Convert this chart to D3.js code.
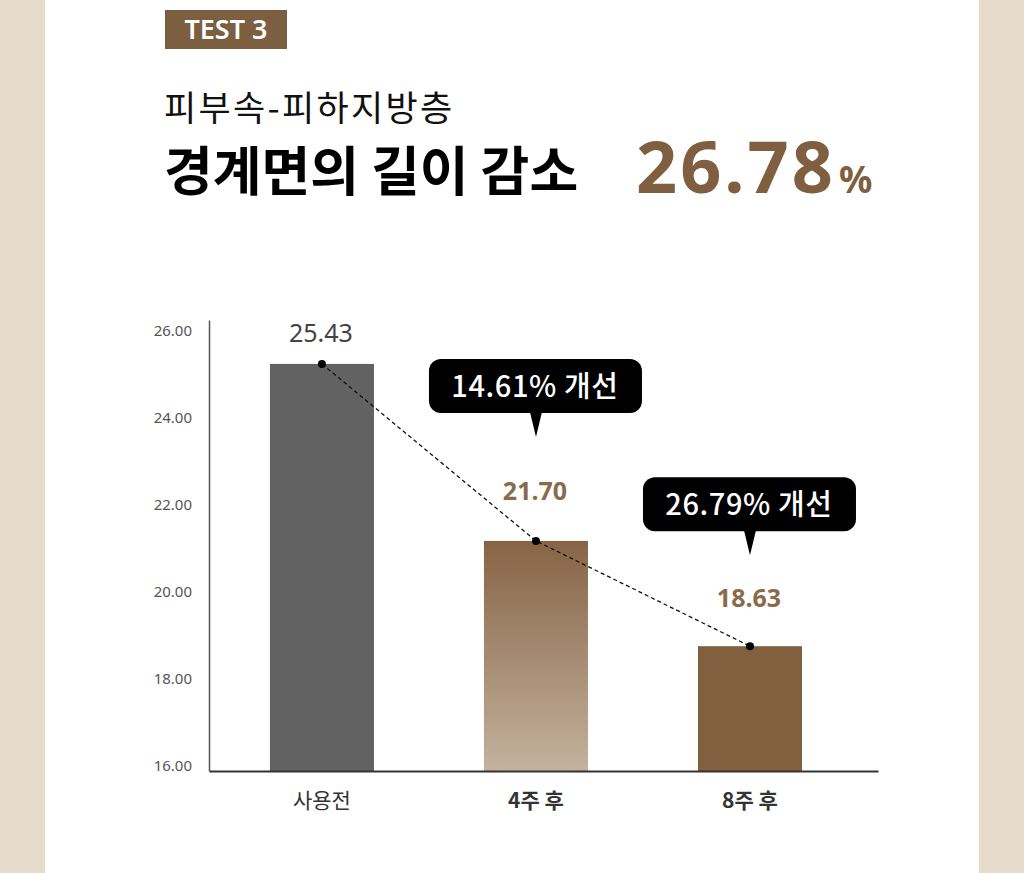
<!DOCTYPE html>
<meta charset="utf-8">
<style>
  body { margin: 0; background: #e7dccc; }
  svg { display: block; }
</style>

<!-- Load d3.js -->
<script src="https://d3js.org/d3.v7.min.js"></script>

<div id="my_dataviz"></div>

<script>
// chart values
var categories = ["사용전", "4주 후", "8주 후"];
var barValues = [25.36, 21.29, 18.87];          // bar heights on the axis
var valueLabels = ["25.43", "21.70", "18.63"];  // printed values
var yTicks = [16, 18, 20, 22, 24, 26];
var calloutLabels = ["14.61% 개선", "26.79% 개선"];
var badgeText = "TEST 3";
var subTitle = "피부속-피하지방층";
var mainTitle = "경계면의 길이 감소";
var bigNumber = "26.78";

var W = 1024, H = 873;
var brown = "#7f5f3f";
var kr = "'Noto Sans CJK KR', 'Noto Sans', sans-serif";

var svg = d3.select("#my_dataviz")
  .append("svg")
    .attr("width", W)
    .attr("height", H);

// white panel in the middle
svg.append("rect")
  .attr("x", 45).attr("y", 0)
  .attr("width", 934).attr("height", H)
  .attr("fill", "#ffffff");

// badge
svg.append("rect")
  .attr("x", 165).attr("y", 10)
  .attr("width", 122).attr("height", 39)
  .attr("fill", "#7c5e40");
svg.append("text")
  .attr("x", 226).attr("y", 39)
  .attr("text-anchor", "middle")
  .style("font-family", "'Noto Sans', sans-serif")
  .style("font-weight", 600)
  .style("font-size", "27px")
  .style("fill", "#fff")
  .text(badgeText);

// headings
svg.append("text")
  .attr("x", 164).attr("y", 121)
  .style("font-family", kr)
  .style("font-size", "35px")
  .style("letter-spacing", "2.3px")
  .style("fill", "#111")
  .text(subTitle);
svg.append("text")
  .attr("x", 164).attr("y", 191)
  .style("font-family", kr)
  .style("font-weight", 700)
  .style("font-size", "53px")
  .style("fill", "#000")
  .text(mainTitle);

var big = svg.append("text")
  .attr("x", 636).attr("y", 193)
  .style("font-family", "'Noto Sans', sans-serif")
  .style("font-weight", 700)
  .style("font-size", "72px")
  .style("letter-spacing", "3px")
  .style("fill", brown);
big.append("tspan").text(bigNumber);
big.append("tspan")
  .attr("dx", 3)
  .style("font-size", "37px")
  .style("letter-spacing", "0px")
  .text("%");

// scales
var y = d3.scaleLinear()
  .domain([16, 26.37])
  .range([771, 320]);

var x = d3.scaleBand()
  .domain(categories)
  .range([209, 878])
  .paddingInner(0.514)
  .paddingOuter(0.32)
  .align(0.445);

// Y axis
var yAxis = svg.append("g")
  .attr("transform", "translate(209,0)")
  .call(d3.axisLeft(y).tickValues(yTicks).tickFormat(d3.format(".2f")).tickSize(0).tickPadding(17));
yAxis.select(".domain").attr("stroke", "#555").attr("stroke-width", 1.5);
yAxis.selectAll("text")
  .attr("dy", "-0.02em")
  .style("font-family", "'Noto Sans', sans-serif")
  .style("font-size", "15px")
  .style("fill", "#555");

// gradient for the middle bar
var defs = svg.append("defs");
var grad = defs.append("linearGradient")
  .attr("id", "midGrad")
  .attr("x1", 0).attr("y1", 0).attr("x2", 0).attr("y2", 1);
grad.append("stop").attr("offset", "0%").attr("stop-color", "#876445");
grad.append("stop").attr("offset", "100%").attr("stop-color", "#c4b19e");

var barFill = ["#626262", "url(#midGrad)", "#82603f"];

// bars
svg.selectAll("bars")
  .data(barValues)
  .enter()
  .append("rect")
    .attr("x", function(d, i) { return x(categories[i]); })
    .attr("y", function(d) { return y(d); })
    .attr("width", x.bandwidth())
    .attr("height", function(d) { return y(16) - y(d); })
    .attr("fill", function(d, i) { return barFill[i]; });

// X axis
var xAxis = svg.append("g")
  .attr("transform", "translate(0," + y(16) + ")")
  .call(d3.axisBottom(x).tickSize(0).tickPadding(22));
xAxis.select(".domain").attr("stroke", "#333").attr("stroke-width", 2);
xAxis.selectAll("text")
  .style("font-family", kr)
  .style("font-size", "21px")
  .style("font-weight", function(d, i) { return i == 0 ? 400 : 700; })
  .style("fill", "#333");

// dashed trend line + dots
var cx = function(i) { return x(categories[i]) + x.bandwidth() / 2; };
var line = d3.line()
  .x(function(d, i) { return cx(i); })
  .y(function(d) { return y(d); });
svg.append("path")
  .datum(barValues)
  .attr("d", line)
  .attr("fill", "none")
  .attr("stroke", "#111")
  .attr("stroke-width", 1.3)
  .attr("stroke-dasharray", "4,3");
svg.selectAll("dots")
  .data(barValues)
  .enter()
  .append("circle")
    .attr("cx", function(d, i) { return cx(i); })
    .attr("cy", function(d) { return y(d); })
    .attr("r", 4)
    .attr("fill", "#000");

// value labels above the bars
var labelGap = [22, 41, 39];
svg.selectAll("vals")
  .data(barValues)
  .enter()
  .append("text")
    .attr("x", function(d, i) { return cx(i) - 1; })
    .attr("y", function(d, i) { return y(d) - labelGap[i]; })
    .attr("text-anchor", "middle")
    .style("font-family", "'Noto Sans', sans-serif")
    .style("font-size", "25px")
    .style("font-weight", function(d, i) { return i == 0 ? 400 : 700; })
    .style("fill", function(d, i) { return i == 0 ? "#444" : "#8a6a4b"; })
    .text(function(d, i) { return valueLabels[i]; });

// callouts over bar 2 and 3
var tipGap = [104, 91];
var callouts = svg.selectAll("callouts")
  .data(calloutLabels)
  .enter()
  .append("g")
    .attr("transform", function(d, i) {
      return "translate(" + cx(i + 1) + "," + (y(barValues[i + 1]) - tipGap[i]) + ")";
    });
callouts.append("rect")
  .attr("x", -107).attr("y", -78)
  .attr("width", 213).attr("height", 54)
  .attr("rx", 12)
  .attr("fill", "#000");
callouts.append("path")
  .attr("d", "M-6,-25 L6,-25 L0,0 Z")
  .attr("fill", "#000");
callouts.append("text")
  .attr("x", -1).attr("y", -40)
  .attr("text-anchor", "middle")
  .style("font-family", kr)
  .style("font-size", "29px")
  .style("letter-spacing", "0.6px")
  .style("font-weight", 500)
  .style("fill", "#fff")
  .text(function(d) { return d; });
</script>
